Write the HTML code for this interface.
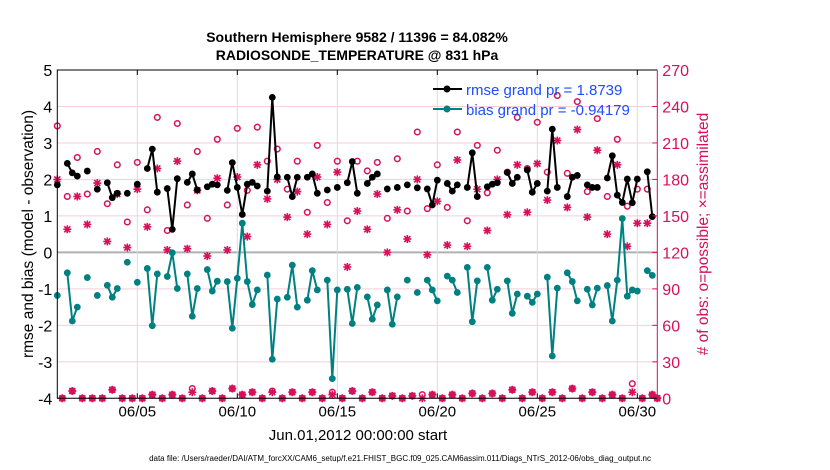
<!DOCTYPE html>
<html><head><meta charset="utf-8"><style>
body{margin:0;background:#fff;}
svg{display:block;font-family:"Liberation Sans",Arial,sans-serif;}
</style></head><body>
<svg id="chart" width="830" height="470" viewBox="0 0 830 470" xmlns="http://www.w3.org/2000/svg">
<text x="357" y="42" text-anchor="middle" font-size="14" font-weight="bold">Southern Hemisphere 9582 / 11396 = 84.082%</text>
<text x="357" y="60" text-anchor="middle" font-size="14" font-weight="bold">RADIOSONDE_TEMPERATURE @ 831 hPa</text>
<g id="grid"></g>
<g id="marks"></g>
<g id="axes"></g>
<text transform="translate(33,234) rotate(-90)" text-anchor="middle" font-size="15.5">rmse and bias (model - observation)</text>
<text transform="translate(708,234) rotate(-90)" text-anchor="middle" font-size="15.5" fill="#d6105a"># of obs: o=possible; ×=assimilated</text>
<text x="358" y="440" text-anchor="middle" font-size="15">Jun.01,2012 00:00:00 start</text>
<text x="400" y="461" text-anchor="middle" font-size="8">data file: /Users/raeder/DAI/ATM_forcXX/CAM6_setup/f.e21.FHIST_BGC.f09_025.CAM6assim.011/Diags_NTrS_2012-06/obs_diag_output.nc</text>
<g>
<line x1="433" y1="89" x2="462" y2="89" stroke="#000" stroke-width="2"/><circle cx="447" cy="89" r="3.5" fill="#000"/>
<text x="466" y="95" font-size="15" fill="#1a4dff">rmse grand pr = 1.8739</text>
<line x1="433" y1="109" x2="462" y2="109" stroke="#008080" stroke-width="2"/><circle cx="447" cy="109" r="3.5" fill="#008080"/>
<text x="466" y="115" font-size="15" fill="#1a4dff">bias grand pr = -0.94179</text>
</g>
</svg>
<script>
const rmseIdx=[0,2,3,4,6,8,10,11,12,14,16,18,19,20,22,23,24,26,27,28,30,31,32,34,35,36,37,38,39,40,42,43,44,46,47,48,50,51,52,54,56,58,59,60,62,63,64,66,68,70,72,74,75,76,78,79,80,82,83,84,86,87,88,90,91,92,94,95,96,98,99,100,102,103,104,106,107,108,110,111,112,113,114,115,116,118,119];
const rmseVal=[1.85,2.44,2.18,2.09,2.23,1.73,1.91,1.50,1.62,1.62,1.87,2.30,2.83,1.65,1.75,0.63,2.02,1.92,2.15,1.71,1.80,1.87,1.85,1.70,2.46,1.78,1.04,1.87,1.92,1.82,1.68,4.25,2.07,2.06,1.53,2.06,2.06,2.15,1.62,1.71,1.78,1.91,2.49,1.62,1.89,2.06,2.15,1.74,1.78,1.85,1.77,1.74,1.30,1.98,1.89,1.68,1.85,1.78,2.73,1.53,1.80,1.87,1.91,2.19,1.89,2.06,2.26,1.65,1.89,1.68,3.38,1.78,1.53,2.06,2.11,1.85,1.78,1.78,2.04,2.65,1.57,1.37,2.01,1.36,2.01,2.21,0.98];
const biasIdx=[0,2,3,4,6,8,10,11,12,14,16,18,19,20,22,23,24,26,27,28,30,31,32,34,35,36,37,38,39,40,42,43,44,46,47,48,50,51,52,54,55,56,58,59,60,62,63,64,66,67,68,70,72,74,75,76,78,79,80,82,83,84,86,87,88,90,91,92,94,95,96,98,99,100,102,103,104,106,107,108,110,111,112,113,114,115,116,118,119];
const biasVal=[-1.18,-0.56,-1.88,-1.50,-0.69,-1.18,-0.90,-1.23,-0.99,-0.27,-0.82,-0.44,-2.01,-0.59,-0.66,-0.01,-0.99,-0.59,-1.75,-0.99,-0.47,-1.06,-0.79,-0.80,-2.08,-0.71,0.80,-0.80,-1.43,-1.03,-0.62,-2.93,-1.28,-1.23,-0.35,-1.50,-1.31,-0.50,-1.03,-0.76,-3.46,-1.03,-1.01,-1.95,-0.96,-1.22,-1.83,-1.44,-1.03,-1.97,-1.22,-0.76,-1.10,-0.76,-1.03,-1.33,-0.65,-0.76,-1.10,-0.41,-1.90,-0.78,-0.41,-1.31,-1.01,-0.78,-1.67,-1.14,-1.20,-1.37,-1.14,-0.68,-2.84,-0.98,-0.56,-0.80,-1.33,-1.01,-1.44,-0.98,-0.91,-1.88,-0.76,0.93,-1.20,-1.03,-1.06,-0.50,-0.63];
const possible=[224,0,166,6,198,0,168,0,203,0,160,7,192,0,145,0,194,0,155,3,231,0,138,3,226,0,159,8,203,0,148,6,213,0,159,8,222,3,171,5,223,0,195,6,205,0,172,5,195,0,153,5,208,0,161,5,195,0,146,6,195,0,187,5,194,0,148,2,197,0,154,2,219,3,156,3,192,0,157,3,219,0,146,4,208,0,169,4,204,0,186,7,231,0,189,5,227,0,186,5,249,0,185,8,244,0,170,5,230,0,166,3,213,0,158,12,172,0,172,3,0];
const assimilated=[180,0,139,6,166,0,143,0,177,0,129,7,168,0,124,0,172,0,141,3,189,0,122,3,195,0,123,5,171,0,117,6,181,0,122,8,182,3,133,5,192,0,164,5,180,0,149,5,170,0,135,5,182,0,143,3,186,0,108,6,154,0,139,5,168,0,120,2,155,0,131,2,180,0,118,3,162,0,126,3,196,0,125,4,172,0,138,4,180,0,151,7,192,0,153,5,193,0,163,5,212,0,157,8,221,0,149,5,204,0,135,3,192,0,125,5,144,0,144,3,0];
const yTicks=[-4,-3,-2,-1,0,1,2,3,4,5];
const y2Ticks=[0,30,60,90,120,150,180,210,240,270];
const xTickDays=[4,9,14,19,24,29];
const xTickLabels=["06/05","06/10","06/15","06/20","06/25","06/30"];

const NS="http://www.w3.org/2000/svg";
const L=57.3,R=657.3,T=70,B=398.3;
const xs=i=>L+5*i;
const xd=d=>L+20*d;
const ys=v=>B-(v+4)*(B-T)/9;
const y2=v=>B-v*(B-T)/270;
const MAG="#d6105a",TEAL="#008080";
function mk(tag,attrs,parent){const e=document.createElementNS(NS,tag);for(const k in attrs)e.setAttribute(k,attrs[k]);parent.appendChild(e);return e;}
const grid=document.getElementById('grid'),marks=document.getElementById('marks'),axes=document.getElementById('axes');

yTicks.forEach(v=>{
  const g=mk('line',{x1:L,x2:R,y1:ys(v),y2:ys(v),stroke:v===0?'#b0b0b0':'#f3cfdc','stroke-width':v===0?2:1},grid);
  
  
  const t=mk('text',{x:L-5,y:ys(v)+6,'text-anchor':'end','font-size':16},axes);t.textContent=v;
  
  
});
xTickDays.forEach((d,k)=>{
  const g=mk('line',{x1:xd(d),x2:xd(d),y1:T,y2:B,stroke:'#dcdcdc','stroke-width':1},grid);
  
  
  mk('line',{x1:xd(d),x2:xd(d),y1:B,y2:B-5,stroke:'#000'},axes);
  mk('line',{x1:xd(d),x2:xd(d),y1:T,y2:T+5,stroke:'#000'},axes);
  const t=mk('text',{x:xd(d),y:B+18,'text-anchor':'middle','font-size':15},axes);t.textContent=xTickLabels[k];
  
  
});
y2Ticks.forEach(v=>{
  mk('line',{x1:R,x2:R-5,y1:y2(v),y2:y2(v),stroke:MAG},axes);
  const t=mk('text',{x:R+5,y:y2(v)+6,'font-size':16,fill:MAG},axes);t.textContent=v;
  
  
});
mk('path',{d:`M${R},${B}L${L},${B}L${L},${T}L${R},${T}`,fill:'none',stroke:'#000','stroke-width':1},axes);
mk('line',{x1:R,x2:R,y1:T,y2:B,stroke:MAG,'stroke-width':1},axes);

function series(idx,val,color,name){
  let seg=[];
  const flush=()=>{if(seg.length>1){const p=mk('polyline',{points:seg.join(' '),fill:'none',stroke:color,'stroke-width':2},marks);
    
    }seg=[];};
  idx.forEach((i,k)=>{if(k>0&&i!==idx[k-1]+1)flush();seg.push(xs(i)+','+ys(val[k]));});
  flush();
  idx.forEach((i,k)=>{const c=mk('circle',{cx:xs(i),cy:ys(val[k]),r:3.4,fill:color},marks);
    
    });
}
function star(x,y,parent){
  const g=mk('g',{stroke:MAG,'stroke-width':1.6},parent);
  
  
  const r=4;
  mk('line',{x1:x-r,x2:x+r,y1:y,y2:y},g);mk('line',{x1:x,x2:x,y1:y-r,y2:y+r},g);
  mk('line',{x1:x-3,x2:x+3,y1:y-3,y2:y+3},g);mk('line',{x1:x-3,x2:x+3,y1:y+3,y2:y-3},g);
}
possible.forEach((v,i)=>{const c=mk('circle',{cx:xs(i),cy:y2(v),r:2.8,fill:'none',stroke:MAG,'stroke-width':1.5},marks);
  
  });
assimilated.forEach((v,i)=>star(xs(i),y2(v),marks));
series(rmseIdx,rmseVal,'#000','rmse');
series(biasIdx,biasVal,TEAL,'bias');
</script>
</body></html>
